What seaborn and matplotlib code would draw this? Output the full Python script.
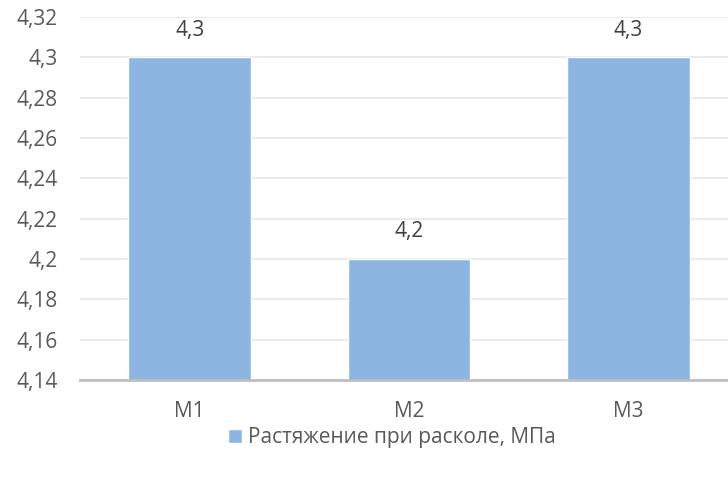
import matplotlib
matplotlib.use("Agg")
import matplotlib.pyplot as plt
import seaborn as sns
from matplotlib.ticker import FuncFormatter, MultipleLocator

# data
categories = ["М1", "М2", "М3"]
values = [4.3, 4.2, 4.3]
series_name = "Растяжение при расколе, МПа"

sns.set_style("white")
plt.rcParams['font.family'] = ['Open Sans', 'DejaVu Sans']

fig = plt.figure(figsize=(7.28, 4.79), dpi=100)
ax = fig.add_axes([80 / 728, (479 - 380) / 479, 658 / 728, (380 - 17) / 479])

bar_color = "#8CB6E1"
sns.barplot(x=categories, y=values, color=bar_color, saturation=1, width=0.56,
            label=series_name, ax=ax, zorder=3)

ax.set_ylim(4.14, 4.32)
ax.yaxis.set_major_locator(MultipleLocator(0.02))
ax.yaxis.set_major_formatter(FuncFormatter(lambda v, p: f"{round(v, 2):g}".replace('.', ',')))
ax.grid(axis='y', color="#E8E8E8", linewidth=1.2, zorder=0)
ax.set_xlabel("")
ax.set_ylabel("")

for s in ["top", "right", "left"]:
    ax.spines[s].set_visible(False)
ax.spines["bottom"].set_color("#BFBFBF")
ax.spines["bottom"].set_linewidth(2)
ax.spines["bottom"].set_zorder(4)

ax.tick_params(axis='both', length=0, labelsize=15, labelcolor="#595959")
ax.tick_params(axis='x', pad=15)
ax.tick_params(axis='y', pad=16)

# data labels
for i, v in enumerate(values):
    ax.annotate(f"{v:g}".replace('.', ','), (i, v), xytext=(0, 12),
                textcoords="offset points", ha='center', va='bottom',
                fontsize=15, color="#404040")

leg = ax.legend(loc='center', bbox_to_anchor=(392 / 728, 1 - 438 / 479),
                bbox_transform=fig.transFigure, frameon=False, fontsize=15,
                handlelength=0.65, handleheight=0.65, handletextpad=0.3)
for t in leg.get_texts():
    t.set_color("#595959")

fig.savefig("out.png", dpi=100)
